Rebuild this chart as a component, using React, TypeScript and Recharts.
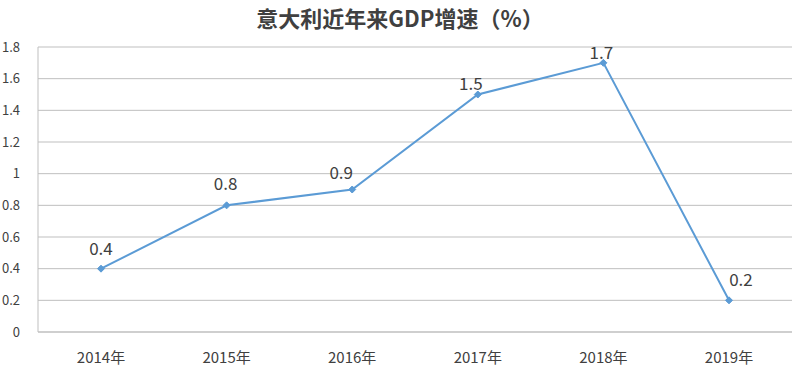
import React from 'react';
import { LineChart, Line, XAxis, YAxis, CartesianGrid, LabelList } from 'recharts';

const categories = ['2014年', '2015年', '2016年', '2017年', '2018年', '2019年'];
const growth = [0.4, 0.8, 0.9, 1.5, 1.7, 0.2];
const yTicks = [0, 0.2, 0.4, 0.6, 0.8, 1, 1.2, 1.4, 1.6, 1.8];
const title = '意大利近年来GDP增速（%）';

const data = categories.map((c, i) => ({ year: c, value: growth[i] }));

const FONT = '"Noto Sans CJK SC", "Noto Sans", sans-serif';

// label nudges (px) relative to each point, as placed in the reference
const labelDx = [0, -1, -11, -7, -2, 12];
const labelGap = [14, 15, 11, 5, 4, 14];

const Diamond = (props: any) => {
  const { cx, cy } = props;
  if (cx == null || cy == null) return null;
  const s = 3.5;
  return (
    <path
      d={`M${cx},${cy - s}L${cx + s},${cy}L${cx},${cy + s}L${cx - s},${cy}Z`}
      fill="#5b9bd5"
      stroke="#5b9bd5"
    />
  );
};

const PointLabel = (props: any) => {
  const { x, y, value, index } = props;
  return (
    <text
      x={x + labelDx[index]}
      y={y - labelGap[index]}
      textAnchor="middle"
      fontFamily={FONT}
      fontSize={17}
      fill="#404040"
    >
      {value}
    </text>
  );
};

export default function App() {
  return (
    <div style={{ position: 'absolute', left: 0, top: 0, width: 800, height: 371, background: '#fff' }}>
      <div
        style={{
          position: 'absolute',
          left: 0,
          top: 2,
          width: 800,
          textAlign: 'center',
          fontFamily: FONT,
          fontWeight: 'bold',
          fontSize: 22,
          color: '#404040',
          lineHeight: '30px',
        }}
      >
        {title}
      </div>
      <LineChart
        width={800}
        height={371}
        data={data}
        margin={{ top: 47, right: 8, bottom: 9, left: 8 }}
      >
        <CartesianGrid vertical={false} stroke="#bfbfbf" strokeWidth={1} />
        <XAxis
          dataKey="year"
          height={30}
          padding={{ left: 63, right: 63 }}
          axisLine={{ stroke: '#bfbfbf' }}
          tickLine={false}
          tickMargin={14}
          tick={{ fontFamily: FONT, fontSize: 15, fill: '#404040' }}
        />
        <YAxis
          width={30}
          domain={[0, 1.8]}
          ticks={yTicks}
          interval={0}
          axisLine={{ stroke: '#bfbfbf' }}
          tickLine={false}
          tickMargin={12}
          tickFormatter={(v: number) => String(v)}
          tick={{ fontFamily: FONT, fontSize: 13, fill: '#404040' }}
        />
        <Line
          type="linear"
          dataKey="value"
          stroke="#5b9bd5"
          strokeWidth={2}
          dot={<Diamond />}
          activeDot={false}
          isAnimationActive={false}
        >
          <LabelList dataKey="value" content={<PointLabel />} />
        </Line>
      </LineChart>
    </div>
  );
}
